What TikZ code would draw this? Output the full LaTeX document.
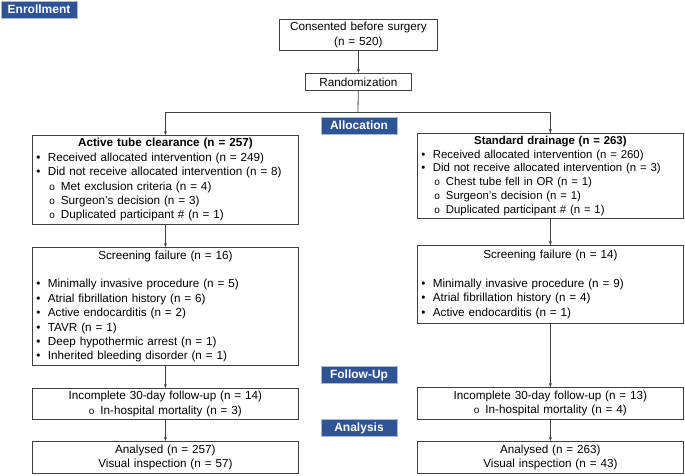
\documentclass[tikz,border=0pt]{standalone}
\usepackage{fontspec}
\setmainfont{Liberation Sans}
\usetikzlibrary{arrows.meta}

\definecolor{phaseblue}{RGB}{47,84,150}
\definecolor{phaseedge}{RGB}{175,185,205}
\definecolor{boxline}{RGB}{64,64,64}

\newcommand{\itm}{\makebox[11.5pt][l]{•}}
\newcommand{\sitm}{\hspace*{13pt}\makebox[11.5pt][l]{\fontsize{10}{10}\selectfont o}}
\newcommand{\hdr}[1]{\makebox[\hsize]{#1}}
\newcommand{\circo}{{\fontsize{10}{10}\selectfont o}\hspace{6pt}}

\tikzset{
  box/.style={draw=boxline, line width=0.8pt, anchor=north west, inner xsep=4pt, inner ysep=1pt, font=\fontsize{11.7}{14.4}\selectfont},
  phase/.style={fill=phaseblue, draw=phaseedge, line width=0.8pt, text=white, font=\bfseries\fontsize{12}{14}\selectfont, minimum width=76pt, minimum height=17pt, inner sep=0pt},
  link/.style={draw=boxline, line width=0.8pt, -{Stealth[length=4pt,width=3pt]}},
  trunk/.style={draw=boxline, line width=0.8pt}
}

\begin{document}
\begin{tikzpicture}[x=1pt, y=-1pt]
        \useasboundingbox (0,0) rectangle (685,475);

        % phase labels
        \node[phase] (enrol) at (39,9.5) {Enrollment};
        \node[phase] (alloc) at (359,125.5) {Allocation};
        \node[phase] (follow) at (359,375) {Follow-Up};
        \node[phase] (analysis) at (359,428) {Analysis};

        % enrollment
        \node[box, align=center, text width=150pt, minimum height=31pt] (cons) at (279,19) {Consented before surgery\\(n = 520)};
        \node[box, align=center, text width=98pt, minimum height=17pt] (rand) at (305,73) {Randomization};
        \coordinate (split) at (358,112);

        % allocation
        \node[box, align=left, text width=258pt, minimum height=89pt] (act) at (32,135) {\hdr{\bfseries Active tube clearance (n = 257)}\\
          \itm Received allocated intervention (n = 249)\\
          \itm Did not receive allocated intervention (n = 8)\\
          \sitm Met exclusion criteria (n = 4)\\
          \sitm Surgeon’s decision (n = 3)\\
          \sitm Duplicated participant \# (n = 1)};
        \node[box, align=left, text width=258pt, minimum height=85pt, inner ysep=0pt, font=\fontsize{11.4}{13.8}\selectfont] (std) at (417,133) {\hdr{\bfseries Standard drainage (n = 263)}\\
          \itm Received allocated intervention (n = 260)\\
          \itm Did not receive allocated intervention (n = 3)\\
          \sitm Chest tube fell in OR (n = 1)\\
          \sitm Surgeon’s decision (n = 1)\\
          \sitm Duplicated participant \# (n = 1)};

        \node[box, align=left, text width=258pt, minimum height=118pt] (scrL) at (32,247) {\hdr{Screening failure (n = 16)}\\[14.4pt]
          \itm Minimally invasive procedure (n = 5)\\
          \itm Atrial fibrillation history (n = 6)\\
          \itm Active endocarditis (n = 2)\\
          \itm TAVR (n = 1)\\
          \itm Deep hypothermic arrest (n = 1)\\
          \itm Inherited bleeding disorder (n = 1)};
        \node[box, align=left, text width=258pt, minimum height=78pt] (scrR) at (417,245) {\hdr{Screening failure (n = 14)}\\[14.4pt]
          \itm Minimally invasive procedure (n = 9)\\
          \itm Atrial fibrillation history (n = 4)\\
          \itm Active endocarditis (n = 1)};

        % follow-up
        \node[box, align=center, text width=258pt, minimum height=31pt] (incL) at (32,388) {Incomplete 30-day follow-up (n = 14)\\\circo In-hospital mortality (n = 3)\hspace*{18pt}};
        \node[box, align=center, text width=258pt, minimum height=32pt] (incR) at (417,387) {Incomplete 30-day follow-up (n = 13)\\\circo In-hospital mortality (n = 4)\hspace*{18pt}};

        % analysis
        \node[box, align=center, text width=258pt, minimum height=32pt] (anaL) at (32,441) {Analysed (n = 257)\\Visual inspection (n = 57)};
        \node[box, align=center, text width=258pt, minimum height=32pt] (anaR) at (417,441) {Analysed (n = 263)\\Visual inspection (n = 43)};

        \path[link]
        (cons) edge (rand)
        (act) edge (scrL)
        (std) edge (scrR)
        (scrL) edge (incL)
        (scrR) edge (incR)
        (incL) edge (anaL)
        (incR) edge (anaR)
        ;
        \draw[trunk] (rand) -- (split);
        \draw[link] (split) -| (act);
        \draw[link] (split) -| (std);
\end{tikzpicture}
\end{document}
